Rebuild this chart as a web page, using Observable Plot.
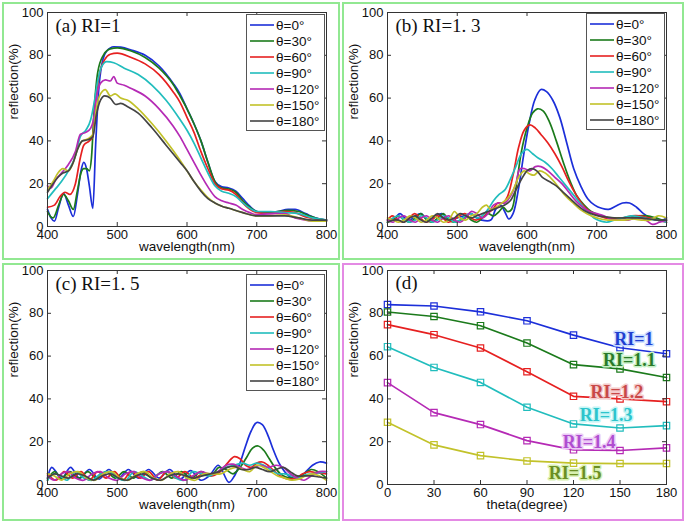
<!DOCTYPE html>
<html><head><meta charset="utf-8">
<script src="https://cdn.jsdelivr.net/npm/d3@7"></script>
<script src="https://cdn.jsdelivr.net/npm/@observablehq/plot@0.6"></script>
<style>
html,body{margin:0;padding:0;background:#fff;}
#root{position:relative;width:685px;height:524px;overflow:hidden;font-family:"Liberation Sans",Arial,sans-serif;}
.panel{position:absolute;}
.frame{position:absolute;box-sizing:border-box;border:2px solid #92e892;pointer-events:none;}
.legend{position:absolute;background:#fff;border:1px solid #555;box-sizing:border-box;padding-top:2px;font:13.5px "Liberation Sans",Arial,sans-serif;color:#111;}
.legend .row{height:16px;display:flex;align-items:center;}
.legend svg{display:block;margin-left:3px;margin-right:2px;}
</style>
</head><body><div id="root"></div>
<script>
// ---------- shared labels ----------
const thetas = ["θ=0°","θ=30°","θ=60°","θ=90°","θ=120°","θ=150°","θ=180°"];
const lineColors = ["#1c2fd9","#1b7a1b","#e62020","#21bdbd","#b52ab5","#c2c22a","#444444"];
const wlTicks = [400,500,600,700,800];
const reflTicks = [0,20,40,60,80,100];
const thetaTicks = [0,30,60,90,120,150,180];

// ---------- panel (a) RI=1 : [wavelength, reflection] ----------
const A0 = [[400,8],[405,4],[410,2.5],[416,9],[423,15.5],[430,10],[437,4.7],[443,15],[448,26],[452,30],[456,27],[460,19],[465,8.5],[469,38],[473,62],[478,76],[485,82],[495,84],[505,83.8],[520,82.5],[540,80],[560,75],[580,67],[590,62],[600,55],[610,48],[620,40],[630,30],[640,21],[650,18.5],[660,18],[670,16.5],[680,13],[690,9.5],[700,7],[710,6.5],[730,7],[745,8],[755,8],[770,6],[785,4],[800,3]];
const A30 = [[400,7],[405,4.5],[408,4],[416,10],[423,15],[430,12],[437,8],[443,17],[448,25],[452,27],[456,27],[460,26],[463,32],[467,55],[472,72],[480,80],[490,83],[500,83.5],[520,82],[540,79],[560,74],[580,66.5],[590,61],[600,55],[610,48],[620,40],[630,30],[640,21],[650,18],[660,17.5],[670,16],[680,12],[690,9],[700,7],[715,6.5],[730,7],[745,7.5],[760,7],[775,5],[790,3.5],[800,3]];
const A60 = [[400,9],[410,10],[418,14],[425,16],[432,15],[440,20],[447,32],[452,38],[460,40],[465,42],[470,62],[475,72],[482,78],[490,80.5],[500,81],[520,79],[540,76],[560,71],[580,63],[590,58],[600,51],[610,44],[620,35],[630,27],[640,20],[650,17.5],[660,17],[670,15],[680,11],[690,8],[700,6.5],[720,6],[740,7],[755,6.5],[770,4.5],[785,3.5],[800,3]];
const A90 = [[400,13],[410,17],[420,21],[430,26],[440,33],[447,42],[455,45],[462,50],[467,58],[472,68],[478,75],[485,77],[495,76.5],[510,74],[530,71],[550,66],[570,59],[590,50],[600,45],[610,39],[620,32],[630,25],[640,19],[650,16.5],[660,15.5],[670,14],[680,11],[690,8.5],[700,7],[720,7],[740,6.5],[760,6],[780,4],[800,3]];
const A120 = [[400,19],[405,18],[412,22],[420,25],[430,29],[440,35],[447,43],[455,44],[462,46],[466,50],[470,60],[476,67],[483,68.5],[490,68],[495,70],[500,67],[510,66],[520,64.5],[540,61],[560,55],[580,47],[590,42],[600,36],[610,30],[620,24],[630,18.5],[640,14],[650,12],[660,11],[670,10],[680,8],[690,6.5],[700,5.5],[720,6],[740,6],[755,4],[770,3],[785,2.5],[800,2.5]];
const A150 = [[400,17],[408,21],[415,25],[422,27],[430,26],[437,30],[443,36],[450,40],[458,41],[465,43],[470,55],[476,62],[483,64],[490,61],[497,62],[505,60],[515,59],[530,55],[550,48],[570,40],[590,31],[600,26],[610,21],[620,17],[630,13.5],[640,11],[650,9.5],[660,8.5],[680,6.5],[700,5],[720,5],[740,5.5],[760,4],[780,2.5],[800,2.5]];
const A180 = [[400,16],[408,20],[415,23],[422,25],[430,26],[437,30],[443,36],[450,40],[458,40.5],[465,42],[470,52],[476,59],[482,61],[490,60],[498,57],[505,57.5],[515,56],[530,53],[550,46],[570,38],[590,30],[600,26],[610,21],[620,16.5],[630,13],[640,11],[650,9.5],[660,8.5],[680,6.5],[700,5],[720,5],[740,5],[760,4],[780,3],[800,3]];

// ---------- panel (b) RI=1.3 ----------
const B0 = [[400,3],[410,4],[418,6],[425,4],[432,3],[440,5],[448,6],[455,4],[462,3],[470,5],[478,6],[485,4],[492,3],[500,4],[510,5],[520,6],[528,4],[535,3],[548,3],[555,8],[562,10],[568,7],[574,3.5],[580,6],[588,18],[595,33],[603,48],[611,59],[620,64],[628,63],[637,59],[647,51],[657,39],[667,27],[677,19],[687,13],[697,10],[707,8.5],[717,8],[727,9.5],[737,11],[747,11],[757,9],[767,6],[777,4],[787,3],[795,3],[800,4]];
const B30 = [[400,2],[408,3],[416,5],[424,3],[432,2],[440,4],[448,6],[456,3],[464,2],[472,4],[480,6],[488,3],[496,2],[505,3],[513,5],[520,3],[528,2],[536,4],[544,6],[552,5],[560,7],[566,9],[572,7],[578,8],[585,20],[592,35],[600,46],[608,53],[615,55],[623,54],[632,49],[642,40],[652,30],[662,21],[672,14],[682,10],[692,7],[702,5.5],[712,4.5],[722,4],[735,4],[748,4.5],[760,5],[772,5],[785,4],[795,3],[800,3]];
const B60 = [[400,3],[407,5],[415,3],[423,2],[431,4],[439,6],[447,4],[455,2],[463,3],[471,5],[479,4],[487,2],[495,3],[503,5],[511,6],[519,4],[527,3],[535,4],[543,6],[551,8],[558,11],[565,11],[572,14],[580,24],[588,37],[596,45],[604,47.5],[612,46],[620,43],[630,39],[640,34],[650,28],[660,21],[670,15],[680,10],[690,7],[700,5.5],[712,4],[725,3.5],[738,4],[750,5],[762,5],[775,4],[787,3],[800,2]];
const B90 = [[400,2],[408,4],[416,5],[424,3],[432,2],[440,3],[448,5],[456,4],[464,2],[472,3],[480,5],[488,4],[496,2],[504,3],[512,5],[520,6],[528,4],[536,5],[544,8],[552,12],[560,15],[568,17],[576,22],[584,28],[592,34],[600,36],[608,34],[616,32],[626,30],[636,27],[646,23],[656,19],[666,15],[676,11],[686,7],[696,4],[706,2.5],[715,2],[725,3],[737,4],[750,5],[762,4.5],[775,3.5],[787,3],[800,2]];
const B120 = [[400,3],[408,2],[416,4],[424,5],[432,3],[440,2],[448,4],[456,5],[464,3],[472,2],[480,4],[488,5],[496,3],[504,2],[512,4],[520,7],[528,6],[536,4],[544,6],[552,10],[560,11],[568,11],[576,14],[584,20],[590,27],[597,27],[604,26],[612,28],[620,28],[630,26],[640,23],[650,20],[660,16],[670,12],[680,9],[690,7],[700,6],[710,5],[720,3.5],[732,3],[745,3],[758,4],[770,3],[780,1],[790,2],[800,3]];
const B150 = [[400,4],[408,3],[416,2],[424,3],[432,5],[440,4],[448,2],[456,3],[464,5],[472,4],[480,2],[488,3],[496,7],[504,4],[512,3],[520,5],[528,6],[536,9],[542,10],[548,8],[556,9],[564,11],[572,13],[580,17],[588,23],[596,26],[604,24.5],[610,24],[618,26],[626,25],[636,22],[646,18],[656,14],[666,11],[676,8],[686,6],[696,4.5],[706,3.5],[716,3],[728,3],[740,3],[752,3.5],[764,3],[776,3],[788,5],[800,4]];
const B180 = [[400,2],[408,3],[416,3],[424,2],[432,4],[440,5],[448,3],[456,2],[464,4],[472,6],[480,4],[488,3],[496,4],[504,6],[512,5],[520,4],[528,5],[536,6],[544,7],[552,8],[560,9],[568,10],[576,12],[584,17],[592,22],[600,26],[607,27],[614,26],[622,23],[632,21],[642,19],[652,16],[662,13],[672,10],[682,7.5],[692,6],[702,5],[712,4.5],[725,4],[738,4],[750,4],[762,4],[775,3.5],[787,3],[800,3]];

// ---------- panel (c) RI=1.5 ----------
const C0 = [[400,3],[406,8],[412,6],[420,2.5],[433,8],[446,3],[460,7],[474,2.5],[488,7],[502,3],[516,7],[530,3],[545,7],[560,3],[575,7],[590,2.5],[605,6.5],[620,2],[632,4],[645,9],[660,1],[668,4],[676,10],[684,18],[692,25],[700,29],[708,28],[716,23],[724,16],[732,10],[740,6],[748,3.5],[756,3],[764,4],[772,6.5],[780,9],[790,10.5],[800,10]];
const C30 = [[400,2],[410,6],[420,3],[432,6],[445,3],[458,6],[470,3],[484,6],[497,3],[510,6],[523,3],[537,6],[550,3],[565,6],[578,3],[592,6],[606,3],[620,6],[634,4],[646,8],[656,7],[666,5],[676,8],[686,13],[694,17],[702,18],[710,16],[718,12],[726,8],[734,5],[742,3.5],[750,3],[758,3.5],[768,5],[778,7],[788,6],[800,3]];
const C60 = [[400,5],[412,2],[424,6],[436,3],[448,6],[460,2],[472,6],[484,3],[496,6],[508,2],[520,6],[533,3],[545,6],[558,2],[571,6],[584,3],[597,6],[610,3],[623,5],[636,4],[648,6],[658,10],[668,13],[676,12],[684,9],[692,8],[700,10],[708,10.5],[716,9],[726,6],[736,3.5],[746,2.5],[756,3],[766,5],[776,6],[786,5.5],[800,5]];
const C90 = [[400,2],[409,5],[418,4],[428,2],[440,6],[452,3],[464,2],[476,5],[488,6],[500,3],[512,2],[524,6],[536,4],[548,2],[560,5],[572,6],[584,3],[596,2],[608,6],[620,5],[632,4],[644,6],[656,8],[668,9],[680,10],[690,9],[700,10],[710,9],[720,7],[730,5],[740,5],[750,4],[760,3],[770,4.5],[780,5],[790,5.5],[800,6]];
const C120 = [[400,4],[410,2],[420,5],[430,6],[440,3],[452,2],[464,5],[476,6],[488,3],[500,2],[512,5],[524,6],[536,3],[548,2],[560,5],[572,6],[584,4],[596,2],[608,4],[620,6],[632,5],[644,6],[656,9],[666,9.5],[676,8],[686,7],[696,8],[706,9],[716,8],[728,9],[738,8],[748,5],[758,3],[768,2],[778,4],[790,6],[800,6]];
const C150 = [[400,5],[410,4],[420,2],[432,5],[444,6],[456,3],[468,2],[480,5],[492,6],[504,3],[516,2],[528,5],[540,6],[552,3],[564,2],[576,5],[588,6],[600,3],[612,2],[624,5],[636,5],[648,5],[660,7],[670,8],[680,7],[690,6],[700,9],[710,8],[720,6],[730,4],[740,3],[750,2],[760,2.5],[770,4],[780,5],[790,4],[800,2]];
const C180 = [[400,3],[410,5],[420,4],[430,3],[442,5],[454,4],[466,2],[478,4],[490,5],[502,3],[514,2],[526,4],[538,5],[550,3],[562,2],[574,4],[586,5],[598,4],[610,3],[622,4],[634,5],[646,6],[658,8],[668,8.5],[678,7],[688,7],[698,8],[708,7],[718,6],[728,7],[738,8],[748,6],[758,4],[768,4],[778,4],[790,3.5],[800,3]];

// ---------- panel (d) reflection peak vs theta ----------
const riNames = ["RI=1","RI=1.1","RI=1.2","RI=1.3","RI=1.4","RI=1.5"];
const RI10 = [84.1,83.4,80.7,76.5,69.8,63.9,61.1];
const RI11 = [80.6,78.5,74.2,66.1,56.0,54.0,50.0];
const RI12 = [74.7,70.0,63.8,52.7,41.2,40.0,38.7];
const RI13 = [64.4,54.7,47.7,36.1,28.3,26.4,27.5];
const RI14 = [47.6,33.6,28.0,20.5,16.2,15.9,17.1];
const RI15 = [29.1,18.5,13.5,11.0,10.0,9.8,9.8];
const riColors = ["#1c2fd9","#1b7a1b","#e62020","#21bdbd","#b52ab5","#c2c22a"];
const riLabelX = [159,156,148,141,130,121];
const riLabelY = [67.8,57.9,43.2,32.3,19.9,5.1];
const riTextColors = ["#1f3fd0","#2a7a2a","#c84848","#2ec4cc","#b04ed0","#6b8e23"];
const riGlow = ["#c9dcff","#c6f0c6","#f4cccc","#c6f6f6","#eccbf6","#d8f0b0"];

const root = document.getElementById("root");
const FONT = "'Liberation Sans', Arial, sans-serif";

function axesMarks(xTicks, fw, fh, xLabel, title, titleDy) {
  return [
    Plot.frame({stroke: "#333", strokeWidth: 1}),
    Plot.ruleX(xTicks, {x: d => d, insetTop: fh - 4, stroke: "#333"}),
    Plot.ruleX(xTicks, {x: d => d, insetBottom: fh - 4, stroke: "#333"}),
    Plot.ruleY(reflTicks, {y: d => d, insetRight: fw - 4, stroke: "#333"}),
    Plot.ruleY(reflTicks, {y: d => d, insetLeft: fw - 4, stroke: "#333"}),
    Plot.text([xLabel], {frameAnchor: "bottom", dy: 20, lineAnchor: "middle", fontSize: 13.5, fill: "#111"}),
    Plot.text(["reflection(%)"], {frameAnchor: "left", dx: -34, rotate: -90, fontSize: 13.5, fill: "#111"}),
    Plot.text([title], {frameAnchor: "top-left", dx: 8, dy: titleDy, lineAnchor: "middle", textAnchor: "start",
      fontFamily: "'Liberation Serif', 'Times New Roman', serif", fontSize: 19, fill: "#111"})
  ];
}

function place(el, left, top) {
  const d = document.createElement("div");
  d.className = "panel"; d.style.left = left + "px"; d.style.top = top + "px";
  d.appendChild(el); root.appendChild(d);
}

function spectrum(series, title, left, top, w, h, mt, mb, curve) {
  const ml = 47, mr = w - 326;
  const fw = w - ml - mr, fh = h - mt - mb;
  const rows = series.flatMap((pts, i) => pts.map(([x, y]) => ({x, y, theta: thetas[i]})));
  const p = Plot.plot({
    width: w, height: h, marginLeft: ml, marginRight: mr, marginTop: mt, marginBottom: mb,
    style: {background: "transparent", fontSize: "13px", fontFamily: FONT, overflow: "visible", color: "#111"},
    x: {domain: [400, 800], ticks: wlTicks, tickSize: 0, tickPadding: 3, label: null, tickFormat: d => String(d)},
    y: {domain: [0, 100], ticks: reflTicks, tickSize: 0, tickPadding: 4, label: null, tickFormat: d => String(d)},
    color: {domain: thetas, range: lineColors},
    marks: [
      Plot.line(rows, {x: "x", y: "y", z: "theta", stroke: "theta", strokeWidth: 1.7, curve}),
      ...axesMarks(wlTicks, fw, fh, "wavelength(nm)", title, 13)
    ]
  });
  place(p, left, top);
}

function legend(left, top) {
  const box = document.createElement("div");
  box.className = "legend";
  box.style.left = left + "px"; box.style.top = top + "px";
  box.style.width = "79px"; box.style.height = "117px";
  thetas.forEach((t, i) => {
    const row = document.createElement("div"); row.className = "row";
    row.innerHTML = `<svg width="24" height="4"><line x1="0" x2="24" y1="2" y2="2" stroke="${lineColors[i]}" stroke-width="1.6"/></svg><span>${t}</span>`;
    box.appendChild(row);
  });
  root.appendChild(box);
}

spectrum([A0,A30,A60,A90,A120,A150,A180], "(a) RI=1", 0, 0, 340, 262, 12, 36, "monotone-x");
spectrum([B0,B30,B60,B90,B120,B150,B180], "(b) RI=1. 3", 340, 0, 345, 262, 12, 36, "catmull-rom");
spectrum([C0,C30,C60,C90,C120,C150,C180], "(c) RI=1. 5", 0, 260, 340, 264, 10, 40, "catmull-rom");

// panel d
{
  const w = 345, h = 264, ml = 47, mr = 19, mt = 10, mb = 40;
  const fw = w - ml - mr, fh = h - mt - mb;
  const series = [RI10, RI11, RI12, RI13, RI14, RI15];
  const rows = series.flatMap((vals, i) => vals.map((v, j) => ({t: thetaTicks[j], r: v, ri: riNames[i]})));
  const labels = riNames.map((n, i) => ({n, x: riLabelX[i], y: riLabelY[i], c: riTextColors[i], g: riGlow[i]}));
  const p = Plot.plot({
    width: w, height: h, marginLeft: ml, marginRight: mr, marginTop: mt, marginBottom: mb,
    style: {background: "transparent", fontSize: "13px", fontFamily: FONT, overflow: "visible", color: "#111"},
    x: {domain: [0, 180], ticks: thetaTicks, tickSize: 0, tickPadding: 3, label: null, tickFormat: d => String(d)},
    y: {domain: [0, 100], ticks: reflTicks, tickSize: 0, tickPadding: 4, label: null, tickFormat: d => String(d)},
    color: {domain: riNames, range: riColors},
    marks: [
      Plot.line(rows, {x: "t", y: "r", z: "ri", stroke: "ri", strokeWidth: 1.7}),
      Plot.dot(rows, {x: "t", y: "r", stroke: "ri", symbol: "square", r: 3.6, fill: "none", strokeWidth: 1.2}),
      Plot.text(labels, {x: "x", y: "y", text: "n", fill: d => d.c, stroke: d => d.g, strokeWidth: 3, paintOrder: "stroke",
        fontFamily: "'Liberation Serif', 'Times New Roman', serif", fontWeight: "bold", fontSize: 18}),
      ...axesMarks(thetaTicks, fw, fh, "theta(degree)", "(d)", 12.5)
    ]
  });
  place(p, 340, 260);
}

legend(246, 14);
legend(586, 13);
legend(246, 274);

// outer panel frames
[[2,2,338,258,"#92e892"],[342,2,342,258,"#92e892"],[2,263,338,258,"#92e892"],[342,263,342,258,"#e48ae4"]].forEach(([l,t,w,h,c]) => {
  const f = document.createElement("div");
  f.className = "frame";
  Object.assign(f.style, {left: l + "px", top: t + "px", width: w + "px", height: h + "px", borderColor: c});
  root.appendChild(f);
});
</script>
</body></html>
